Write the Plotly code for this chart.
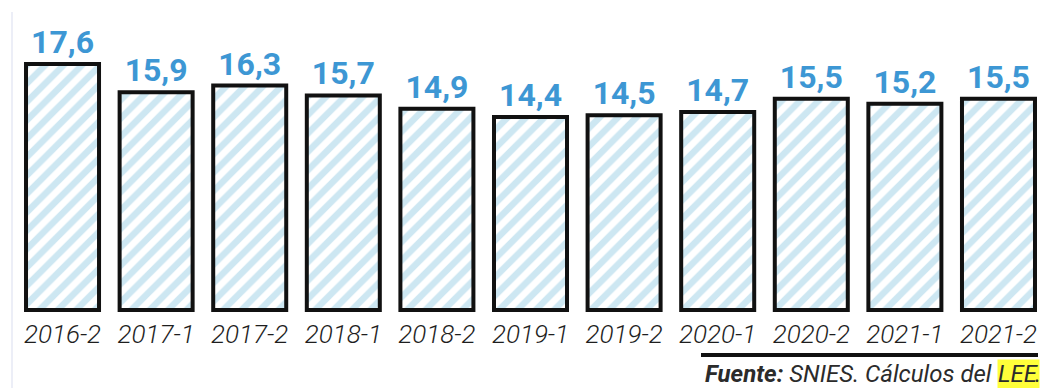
import numpy as np
import plotly.graph_objects as go

# Semester periods and their values
periods = ["2016-2", "2017-1", "2017-2", "2018-1", "2018-2", "2019-1",
           "2019-2", "2020-1", "2020-2", "2021-1", "2021-2"]
values = [17.6, 15.9, 16.3, 15.7, 14.9, 14.4, 14.5, 14.7, 15.5, 15.2, 15.5]
value_labels = [f"{v:.1f}".replace(".", ",") for v in values]

W, H = 1045, 388
M_BOTTOM = 72
PLOT_H = H - M_BOTTOM

BASE = 2.75                  # truncated value axis: bars start here
Y_RANGE = [2.383, 21.465]
X_RANGE = [-0.668, 10.497]

heights = np.array(values) - BASE

BLUE = "#3d97d4"
STRIPE = "#9ccfe5"
INK = "#2b2b2b"

fig = go.Figure(
    go.Bar(
        x=periods,
        y=heights,
        base=BASE,
        width=0.78,
        text=value_labels,
        textposition="outside",
        constraintext="none",
        cliponaxis=False,
        textfont=dict(family="Roboto", size=32, color=BLUE, weight="bold"),
        marker=dict(
            color="white",
            line=dict(color="#111111", width=4),
            pattern=dict(shape="/", fgcolor=STRIPE, bgcolor="white",
                         size=13, solidity=0.5),
        ),
        hoverinfo="skip",
    )
)

def px_to_paper_y(py):
    return (PLOT_H - py) / PLOT_H

shapes = [
    # faint left rule
    dict(type="line", xref="paper", yref="paper",
         x0=12 / W, x1=12 / W, y0=px_to_paper_y(12), y1=px_to_paper_y(388),
         line=dict(color="#eceef7", width=2)),
    # rule above the source note
    dict(type="line", xref="paper", yref="paper",
         x0=701 / W, x1=1038 / W, y0=px_to_paper_y(355), y1=px_to_paper_y(355),
         line=dict(color="#111111", width=4)),
]

src_font = dict(family="Roboto", size=24, color=INK, style="italic")
src_y = px_to_paper_y(374)
annotations = [
    dict(text="<b>Fuente:</b> SNIES. Cálculos del", xref="paper", yref="paper",
         x=994 / W, y=src_y, xanchor="right", yanchor="middle",
         showarrow=False, font=src_font),
    dict(text="LEE", xref="paper", yref="paper",
         x=1018 / W, y=src_y, xanchor="center", yanchor="middle",
         showarrow=False, font=src_font, bgcolor="#ffff3a", borderpad=0),
    dict(text=".", xref="paper", yref="paper",
         x=1033 / W, y=src_y, xanchor="left", yanchor="middle",
         showarrow=False, font=src_font),
]

fig.update_layout(
    width=W, height=H,
    margin=dict(l=0, r=0, t=0, b=M_BOTTOM),
    paper_bgcolor="white", plot_bgcolor="white",
    showlegend=False,
    xaxis=dict(type="category", range=X_RANGE, showgrid=False, showline=False,
               zeroline=False, ticks="", ticklabelstandoff=0,
               tickfont=dict(family="Roboto", size=26, color="#1e1e1e",
                             style="italic", weight=300)),
    yaxis=dict(range=Y_RANGE, visible=False, showgrid=False, zeroline=False),
    shapes=shapes,
    annotations=annotations,
)

fig.write_html("out.html")
